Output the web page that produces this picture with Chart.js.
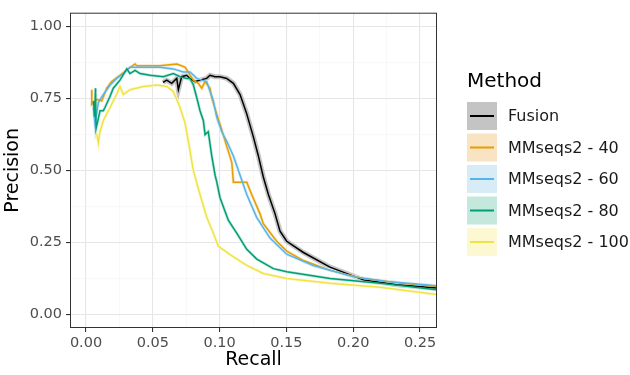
<!DOCTYPE html>
<html lang="en">
<head>
<meta charset="UTF-8" />
<title>Precision vs Recall</title>
<script src="https://cdn.jsdelivr.net/npm/chart.js"></script>
<style>
  html, body { margin: 0; padding: 0; background: #ffffff; }
  .chart-container { position: relative; width: 630px; height: 375px; }
</style>
</head>
<body>
<div class="chart-container"><canvas id="prChart"></canvas></div>
<script>
const methods = ["Fusion", "MMseqs2 - 40", "MMseqs2 - 60", "MMseqs2 - 80", "MMseqs2 - 100"];
const recallTicks = [0, 0.025, 0.05, 0.075, 0.1, 0.125, 0.15, 0.175, 0.2, 0.225, 0.25];
const precisionTicks = [0, 0.125, 0.25, 0.375, 0.5, 0.625, 0.75, 0.875, 1];

const fusionRecall = [0.0576, 0.0604, 0.0641, 0.0679, 0.0691, 0.0716, 0.0754, 0.0778, 0.0816, 0.0853, 0.0903, 0.0928, 0.0966, 0.1003, 0.1053, 0.1103, 0.1153, 0.1203, 0.1252, 0.129, 0.1327, 0.1365, 0.1415, 0.1452, 0.1502, 0.1627, 0.1826, 0.2076, 0.2326, 0.2625];
const fusionPrecision = [0.805, 0.813, 0.802, 0.819, 0.78, 0.825, 0.83, 0.819, 0.808, 0.813, 0.819, 0.83, 0.825, 0.825, 0.819, 0.802, 0.763, 0.696, 0.617, 0.55, 0.477, 0.416, 0.349, 0.289, 0.254, 0.215, 0.164, 0.12, 0.103, 0.092];

const mm40Recall = [0.0043, 0.0043, 0.008, 0.0118, 0.0155, 0.0192, 0.0254, 0.0317, 0.0367, 0.0379, 0.0454, 0.0554, 0.0679, 0.0741, 0.0803, 0.0841, 0.0866, 0.0891, 0.0928, 0.0941, 0.0978, 0.1016, 0.1053, 0.1091, 0.1103, 0.1203, 0.124, 0.1302, 0.1327, 0.1427, 0.1502, 0.1627, 0.1826, 0.2076, 0.235, 0.2625];
const mm40Precision = [0.78, 0.729, 0.746, 0.741, 0.785, 0.808, 0.83, 0.852, 0.869, 0.863, 0.863, 0.863, 0.869, 0.858, 0.813, 0.802, 0.785, 0.808, 0.785, 0.752, 0.696, 0.64, 0.584, 0.528, 0.459, 0.459, 0.416, 0.349, 0.315, 0.254, 0.22, 0.187, 0.153, 0.125, 0.109, 0.097];

const mm60Recall = [0.0055, 0.0067, 0.0092, 0.0129, 0.018, 0.023, 0.0279, 0.0329, 0.0379, 0.0479, 0.0554, 0.0653, 0.0728, 0.0778, 0.0829, 0.0866, 0.0903, 0.0928, 0.0951, 0.0978, 0.1016, 0.1053, 0.1103, 0.1153, 0.1203, 0.1278, 0.1377, 0.1502, 0.1701, 0.2001, 0.2251, 0.2625];
const mm60Precision = [0.718, 0.662, 0.735, 0.763, 0.796, 0.819, 0.836, 0.858, 0.858, 0.858, 0.858, 0.852, 0.841, 0.841, 0.819, 0.813, 0.808, 0.774, 0.745, 0.685, 0.634, 0.601, 0.55, 0.483, 0.416, 0.336, 0.265, 0.209, 0.17, 0.131, 0.114, 0.1];

const mm80Recall = [0.0055, 0.0064, 0.0071, 0.0075, 0.0105, 0.0129, 0.0142, 0.018, 0.0204, 0.0254, 0.0305, 0.0329, 0.0367, 0.0404, 0.0479, 0.0579, 0.0653, 0.0704, 0.0754, 0.0778, 0.0803, 0.0829, 0.0853, 0.0878, 0.0891, 0.0915, 0.0941, 0.0966, 0.0978, 0.1003, 0.1065, 0.1128, 0.1203, 0.1278, 0.1402, 0.1502, 0.1826, 0.2201, 0.2625];
const mm80Precision = [0.741, 0.685, 0.785, 0.645, 0.707, 0.707, 0.718, 0.757, 0.785, 0.813, 0.852, 0.836, 0.847, 0.836, 0.83, 0.825, 0.836, 0.825, 0.819, 0.819, 0.797, 0.752, 0.707, 0.673, 0.624, 0.634, 0.55, 0.483, 0.461, 0.405, 0.327, 0.282, 0.226, 0.192, 0.159, 0.148, 0.125, 0.108, 0.086];

const mm100Recall = [0.008, 0.0092, 0.0105, 0.0129, 0.018, 0.023, 0.0254, 0.0279, 0.0329, 0.0429, 0.0529, 0.0604, 0.0653, 0.0704, 0.0741, 0.0766, 0.0803, 0.0853, 0.0903, 0.0953, 0.099, 0.1078, 0.1203, 0.1327, 0.1502, 0.1826, 0.2201, 0.2625];
const mm100Precision = [0.628, 0.595, 0.634, 0.673, 0.718, 0.765, 0.791, 0.763, 0.78, 0.791, 0.796, 0.791, 0.774, 0.718, 0.664, 0.601, 0.5, 0.416, 0.338, 0.282, 0.237, 0.208, 0.17, 0.142, 0.125, 0.108, 0.094, 0.069];

const seriesRecall = [fusionRecall, mm40Recall, mm60Recall, mm80Recall, mm100Recall];
const seriesPrecision = [fusionPrecision, mm40Precision, mm60Precision, mm80Precision, mm100Precision];

const lineColors = ["#000000", "#E69F00", "#56B4E9", "#009E73", "#F0E442"];
const ribbonColors = ["#c4c4c4", "#f8e4c2", "#d8ecf8", "#c4e8dc", "#fcf8d2"];

const pts = (xs, ys) => xs.map((x, i) => ({ x: x, y: ys[i] }));

const datasets = [];
methods.forEach((m, i) => {
  datasets.push({
    label: m,
    data: pts(seriesRecall[i], seriesPrecision[i]),
    borderColor: lineColors[i],
    borderWidth: 1.5,
    pointRadius: 0,
    tension: 0,
    order: 5 - i,
  });
  // thin confidence band drawn as a wide pale stroke behind the line
  datasets.push({
    label: m + " band",
    data: pts(seriesRecall[i], seriesPrecision[i]),
    borderColor: ribbonColors[i],
    borderWidth: i === 0 ? 5 : 3,
    pointRadius: 0,
    tension: 0,
    order: 20 - i,
  });
});

const isMinor = (c) => c.index % 2 === 1;
const font = "'DejaVu Sans', sans-serif";

// panel border and the right-hand legend
const panelAndLegend = {
  id: "panelAndLegend",
  afterDatasetsDraw(chart) {
    const { ctx, chartArea: a } = chart;
    ctx.save();
    ctx.strokeStyle = "#333333";
    ctx.lineWidth = 1;
    ctx.strokeRect(a.left + 0.5, a.top + 0.5, a.right - a.left - 1, a.bottom - a.top - 1);
    ctx.restore();
  },
  afterDraw(chart) {
    const ctx = chart.ctx;
    ctx.save();
    ctx.fillStyle = "#000000";
    ctx.font = "20px " + font;
    ctx.textBaseline = "middle";
    ctx.fillText("Method", 467, 82);
    methods.forEach((m, i) => {
      const top = 102 + i * 31.5;
      ctx.fillStyle = ribbonColors[i];
      ctx.fillRect(467, top, 30, 28);
      ctx.strokeStyle = lineColors[i];
      ctx.lineWidth = 2;
      ctx.beginPath();
      ctx.moveTo(470, top + 14);
      ctx.lineTo(494, top + 14);
      ctx.stroke();
      ctx.fillStyle = "#1a1a1a";
      ctx.font = "16px " + font;
      ctx.fillText(m, 508, top + 15);
    });
    ctx.restore();
  },
};

new Chart(document.getElementById("prChart"), {
  type: "line",
  data: { datasets },
  plugins: [panelAndLegend],
  options: {
    responsive: true,
    maintainAspectRatio: false,
    animation: false,
    layout: { padding: { top: 2, right: 193, left: 2, bottom: 0 } },
    plugins: { legend: { display: false }, tooltip: { enabled: false } },
    scales: {
      x: {
        type: "linear",
        min: -0.012,
        max: 0.2627,
        afterBuildTicks: (s) => { s.ticks = recallTicks.map((v) => ({ value: v })); },
        afterFit: (s) => { s.height = 47; },
        border: { display: false },
        grid: {
          color: (c) => (isMinor(c) ? "#f3f3f3" : "#e6e6e6"),
          lineWidth: (c) => (isMinor(c) ? 0.6 : 1.1),
          tickColor: (c) => (isMinor(c) ? "rgba(0,0,0,0)" : "#333333"),
          tickLength: 4,
        },
        ticks: {
          autoSkip: false,
          maxRotation: 0,
          padding: 3,
          color: "#4d4d4d",
          font: { family: font, size: 14.5 },
          callback: (v, i) => (i % 2 === 0 ? v.toFixed(2) : ""),
        },
        title: {
          display: true,
          text: "Recall",
          color: "#000000",
          font: { family: font, size: 19 },
          padding: { top: 0, bottom: 4 },
        },
      },
      y: {
        type: "linear",
        min: -0.047,
        max: 1.047,
        afterBuildTicks: (s) => { s.ticks = precisionTicks.map((v) => ({ value: v })); },
        afterFit: (s) => { s.width = 68; },
        border: { display: false },
        grid: {
          color: (c) => (isMinor(c) ? "#f3f3f3" : "#e6e6e6"),
          lineWidth: (c) => (isMinor(c) ? 0.6 : 1.1),
          tickColor: (c) => (isMinor(c) ? "rgba(0,0,0,0)" : "#333333"),
          tickLength: 4,
        },
        ticks: {
          autoSkip: false,
          padding: 4,
          color: "#4d4d4d",
          font: { family: font, size: 14.5 },
          callback: (v, i) => (i % 2 === 0 ? v.toFixed(2) : ""),
        },
        title: {
          display: true,
          text: "Precision",
          color: "#000000",
          font: { family: font, size: 19 },
          padding: { top: 0, bottom: 0 },
        },
      },
    },
  },
});
</script>
</body>
</html>
